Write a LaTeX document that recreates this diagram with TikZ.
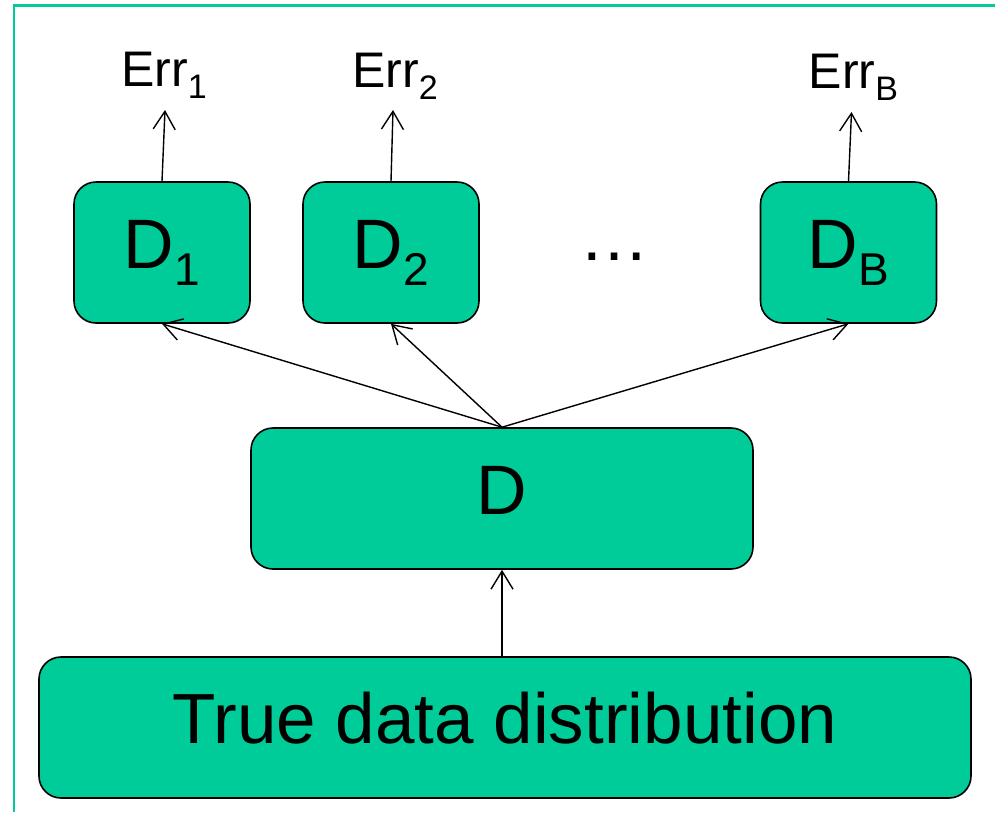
\documentclass[tikz,border=0pt]{standalone}
\usepackage{fontspec}
\setmainfont{Liberation Sans}
\usetikzlibrary{arrows.meta}
\definecolor{boxgreen}{HTML}{00CC99}
\definecolor{framegreen}{HTML}{00CC99}
% lowered, smaller index text
\newcommand{\boxsub}[1]{\raisebox{-17pt}{\fontsize{46}{46}\selectfont #1}}
\newcommand{\errsub}[1]{\raisebox{-12pt}{\fontsize{34}{34}\selectfont #1}}
\begin{document}
\begin{tikzpicture}[x=1pt,y=-1pt,
  box/.style={draw=black, line width=1.6pt, fill=boxgreen, rounded corners=22pt,
    inner sep=0pt, minimum height=141pt, font=\fontsize{70}{70}\selectfont,
    text height=50pt, text depth=19pt},
  arr/.style={line width=1.4pt, -{Straight Barb[length=18pt,width=22pt]}},
  lbl/.style={font=\fontsize{50}{50}\selectfont, anchor=base, inner sep=0pt}]
  \useasboundingbox (0,0) rectangle (995,812);
  \fill[white] (0,0) rectangle (995,812);
  \draw[framegreen, line width=2.5pt] (14,812) -- (14,5.5) -- (995,5.5);

  % sample boxes
  \node[box, minimum width=176pt] (d1) at (162,252.5) {D\boxsub{1}};
  \node[box, minimum width=176pt] (d2) at (391,252.5) {D\boxsub{2}};
  \node[box, minimum width=176pt] (dB) at (848.5,252.5) {D\boxsub{B}};
  \node[font=\fontsize{70}{70}\selectfont, anchor=base, inner sep=0pt] (dots) at (614.7,260) {…};

  % data set and its source
  \node[box, minimum width=502pt, text height=51pt, text depth=20pt] (d) at (502,498.5) {D};
  \node[box, minimum width=932pt, font=\fontsize{71}{71}\selectfont,
    text height=52pt, text depth=20pt] (true) at (505,727.5) {True data distribution};

  % error labels
  \node[lbl] (e1) at (164,86) {Err\errsub{1}};
  \node[lbl] (e2) at (395,87) {Err\errsub{2}};
  \node[lbl] (eB) at (853.5,88) {Err\errsub{B}};
  \coordinate (t1) at (165,110);
  \coordinate (t2) at (393,110);
  \coordinate (tB) at (851.5,112);

  % connectors
  \draw[arr] (d1.north) -- (t1);
  \draw[arr] (d2.north) -- (t2);
  \draw[arr] (dB.north) -- (tB);
  \draw[arr] (d.north) -- (d1.south);
  \draw[arr] (d.north) -- (d2.south);
  \draw[arr] (d.north) -- (dB.south);
  \draw[arr] (d.south |- true.north) -- (d.south);
\end{tikzpicture}
\end{document}
